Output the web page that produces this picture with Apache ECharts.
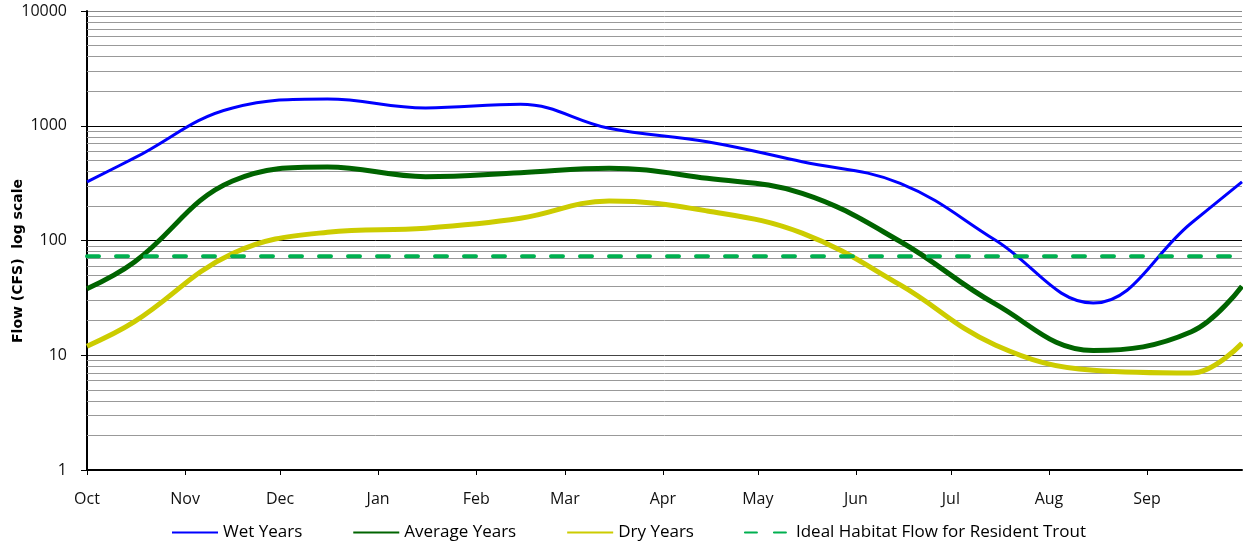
<!DOCTYPE html>
<html>
<head>
<meta charset="utf-8">
<script src="https://cdn.jsdelivr.net/npm/echarts@6/dist/echarts.min.js"></script>
<style>
  html, body { margin: 0; padding: 0; background: #fff; }
  #chart { width: 1243px; height: 544px; }
</style>
</head>
<body>
<div id="chart"></div>
<script>
// day of water year (0 = Oct 1)
var days = [0, 15, 46, 76, 107, 137, 165, 196, 226, 257, 287, 318, 349, 365];
var wetYears = [324, 524, 1428, 1711, 1430, 1538, 950, 726, 486, 315, 101, 28.5, 142, 324];
var averageYears = [38, 65, 330, 437, 360, 390, 426, 348, 258, 98, 28, 11, 16, 40];
var dryYears = [12, 19.6, 77, 118, 128, 156, 221, 181, 116, 41, 12.3, 7.4, 7.0, 12.7];
var troutFlow = 73;

var monthStarts = [0, 31, 61, 92, 123, 151, 182, 212, 243, 273, 304, 335];
var monthLabels = ["Oct", "Nov", "Dec", "Jan", "Feb", "Mar", "Apr", "May", "Jun", "Jul", "Aug", "Sep"];

// minor grid values 2..9 of each decade
var minorGrid = [];
for (var p = 1; p <= 1000; p *= 10) {
  for (var k = 2; k <= 9; k++) minorGrid.push(k * p);
}

function pairs(ys) {
  return days.map(function (d, i) { return [d, ys[i]]; });
}

var font = "Open Sans";
var myChart = echarts.init(document.getElementById("chart"));

var option = {
  animation: false,
  textStyle: { fontFamily: font },
  grid: { left: 87, top: 11, right: 1, bottom: 74, containLabel: false, outerBoundsMode: "none" },
  // y axis title
  graphic: [
    {
      type: "text",
      x: 18,
      y: 261,
      rotation: Math.PI / 2,
      style: {
        text: "Flow (CFS)  log scale",
        fontFamily: "DejaVu Sans",
        fontWeight: "bold",
        fontSize: 14,
        fill: "#000",
        align: "center",
        verticalAlign: "middle"
      }
    }
  ],
  legend: {
    left: 166,
    top: 519,
    itemWidth: 46,
    itemHeight: 14,
    itemGap: 50,
    itemStyle: { opacity: 0 },
    textStyle: { fontFamily: font, fontSize: 17, color: "#000" },
    data: ["Wet Years", "Average Years", "Dry Years", "Ideal Habitat Flow for Resident Trout"]
  },
  xAxis: {
    type: "value",
    min: 0,
    max: 365,
    axisLine: { lineStyle: { color: "#000", width: 2 } },
    axisTick: { customValues: monthStarts, length: 5, lineStyle: { color: "#000", width: 1 } },
    axisLabel: {
      customValues: monthStarts,
      margin: 21,
      fontSize: 16,
      color: "#111",
      formatter: function (v) {
        var i = monthStarts.indexOf(v);
        return i >= 0 ? monthLabels[i] : "";
      }
    },
    splitLine: { show: false }
  },
  yAxis: {
    type: "log",
    logBase: 10,
    min: 1,
    max: 10000,
    axisLine: { show: true, lineStyle: { color: "#000", width: 2 } },
    axisTick: { show: true, length: 6, lineStyle: { color: "#000" } },
    axisLabel: {
      margin: 20,
      fontSize: 16,
      color: "#111",
      formatter: function (v) { return String(Math.round(v)); }
    },
    splitLine: { show: true, lineStyle: { color: ["#000", "#444", "#000", "#000", "#888"], width: 1 } }
  },
  series: [
    {
      name: "grid",
      type: "line",
      data: [],
      silent: true,
      markLine: {
        z: 1,
        silent: true,
        symbol: "none",
        label: { show: false },
        lineStyle: { color: "#999", width: 1, type: "solid" },
        data: minorGrid.map(function (v) { return { yAxis: v }; })
      }
    },
    {
      name: "Wet Years",
      type: "line",
      smooth: 0.4,
      symbol: "none",
      z: 3,
      lineStyle: { color: "#0000ff", width: 3 },
      itemStyle: { color: "#0000ff" },
      data: pairs(wetYears)
    },
    {
      name: "Average Years",
      type: "line",
      smooth: 0.4,
      symbol: "none",
      z: 3,
      lineStyle: { color: "#006400", width: 5 },
      itemStyle: { color: "#006400" },
      data: pairs(averageYears)
    },
    {
      name: "Dry Years",
      type: "line",
      smooth: 0.4,
      symbol: "none",
      z: 3,
      lineStyle: { color: "#cccc00", width: 5 },
      itemStyle: { color: "#cccc00" },
      data: pairs(dryYears)
    },
    {
      name: "Ideal Habitat Flow for Resident Trout",
      type: "line",
      symbol: "none",
      z: 3,
      lineStyle: { color: "#00b050", width: 4, type: [12, 17], cap: "round" },
      itemStyle: { color: "#00b050" },
      data: [[0, troutFlow], [365, troutFlow]]
    }
  ]
};

myChart.setOption(option);
</script>
</body>
</html>
